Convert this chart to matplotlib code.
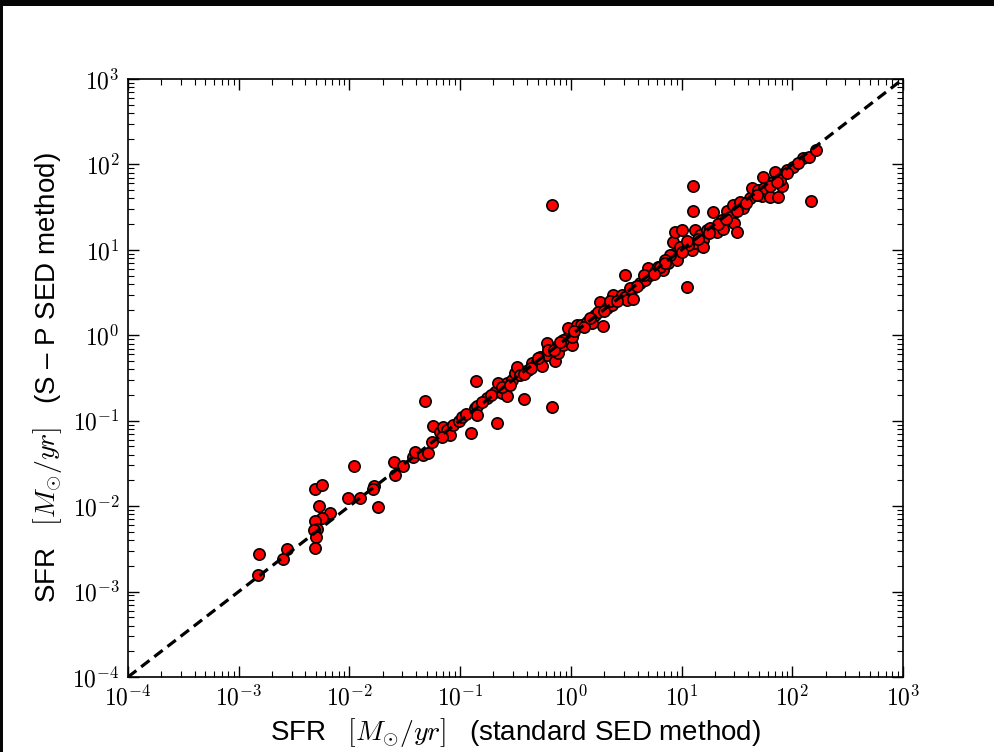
import numpy as np
import matplotlib
matplotlib.use('Agg')
import matplotlib.pyplot as plt
from matplotlib.patches import Rectangle
from matplotlib.ticker import FuncFormatter, LogLocator

# log10 SFR from the standard SED method (x) and the S-P SED method (y)
log_sfr_standard = [
    -2.814, -2.823, -2.566, -2.603, -2.311, -2.250, -2.275, -2.175, -2.250, -2.313,
    -2.295, -2.320, -2.302, -2.308, -1.956, -2.015, -1.904, -1.778, -1.790, -1.739,
    -1.597, -1.516, -1.588, -1.423, -1.407, -1.317, -0.856, -1.332, -1.287, -1.257,
    -1.242, -1.182, -1.152, -1.121, -1.091, -1.166, -1.061, -1.007, -0.986, -0.902,
    -0.865, -0.845, -0.850, -0.760, -0.669, -0.685, -0.655, -0.624, -0.579, -0.579,
    -0.534, -0.504, -0.489, -0.459, -0.423, -0.384, -0.353, -0.308, -0.278, -0.263,
    -0.218, -0.203, -0.173, -0.143, -0.113, -0.068, -0.037, 0.008, 0.023, -0.170,
    -0.212, -0.203, -0.068, 0.008, -0.023, 0.053, 0.089, 0.144, 0.189, 0.288,
    0.219, 0.264, 0.248, 0.324, 0.379, 0.369, 0.460, 0.490, 0.490, 0.510,
    0.559, 0.580, 0.625, 0.670, 0.715, 0.700, 0.761, 0.790, 0.836, 0.881,
    0.911, 0.957, 0.926, 1.047, 1.032, 1.092, 1.122, 1.101, 1.107, 0.941,
    1.002, 1.122, 1.167, 1.197, 1.192, 1.228, 1.257, 1.287, 1.318, 1.363,
    1.378, 1.408, 1.438, 1.474, 1.468, 1.499, 1.528, 1.558, 1.619, 1.634,
    1.694, 1.724, 1.745, 1.799, 1.874, 1.905, 1.829, 1.739, 1.845, 1.935,
    0.896, 0.851, 0.806, 0.986, 1.061, 1.824, 1.890, 1.950, 2.010, 2.095,
    2.154, 2.215, 2.167,
    -0.95, -0.80, -0.72, -0.62, -0.55, -0.42, -0.36, -0.30, -0.15, -0.10,
    0.03, 0.12, 0.17, 0.30, 0.35, 0.42, 0.53, 0.60, 0.66, 0.75,
    0.85, 1.00, 1.05, 1.15, 1.25, 1.33, 1.40, 1.50, 1.58, 1.68,
    1.80, 1.86, 1.95, 2.05,
]
log_sfr_sp = [
    -2.566, -2.804, -2.503, -2.624, -1.797, -1.751, -1.996, -2.085, -2.144, -2.172,
    -2.269, -2.281, -2.359, -2.495, -1.532, -1.910, -1.910, -1.766, -1.804, -2.012,
    -1.488, -1.532, -1.637, -1.423, -1.364, -0.770, -0.536, -1.403, -1.376, -1.247,
    -1.063, -1.130, -1.078, -1.110, -1.169, -1.189, -1.052, -1.001, -0.954, -1.149,
    -0.856, -0.829, -0.934, -0.739, -1.032, -0.662, -0.563, -0.680, -0.563, -0.712,
    -0.525, -0.446, -0.369, -0.466, -0.751, -0.407, -0.329, -0.310, -0.252, -0.361,
    -0.232, -0.126, -0.844, -0.299, -0.212, -0.115, -0.036, -0.115, 0.022, 1.525,
    -0.095, -0.173, -0.056, -0.018, 0.081, 0.119, 0.119, 0.158, 0.139, 0.108,
    0.237, 0.392, 0.275, 0.315, 0.471, 0.354, 0.471, 0.705, 0.451, 0.412,
    0.420, 0.568, 0.608, 0.646, 0.705, 0.783, 0.744, 0.802, 0.763, 0.842,
    0.939, 0.881, 1.095, 0.568, 1.036, 0.998, 1.076, 1.747, 1.458, 1.212,
    1.232, 1.232, 1.173, 1.115, 1.036, 1.232, 1.252, 1.446, 1.212, 1.349,
    1.240, 1.458, 1.388, 1.317, 1.525, 1.205, 1.563, 1.486, 1.603, 1.720,
    1.700, 1.630, 1.720, 1.622, 1.622, 1.747, 1.786, 1.856, 1.915, 1.896,
    0.939, 0.881, 0.802, 1.036, 1.056, 1.797, 1.817, 1.934, 1.973, 2.071,
    2.083, 2.169, 1.575,
    -0.92, -0.78, -0.70, -0.60, -0.58, -0.45, -0.38, -0.27, -0.17, -0.08,
    0.05, 0.10, 0.20, 0.28, 0.40, 0.40, 0.55, 0.58, 0.70, 0.72,
    0.85, 0.97, 1.10, 1.13, 1.20, 1.30, 1.36, 1.45, 1.55, 1.64,
    1.75, 1.80, 1.90, 2.02,
]

sfr_standard = 10.0 ** np.array(log_sfr_standard)
sfr_sp = 10.0 ** np.array(log_sfr_sp)

axis_limits = [1e-4, 1e3]
tick_exponents = [-4, -3, -2, -1, 0, 1, 2, 3]

x_label = r'SFR  $\;[M_{\odot}/yr]\;$  (standard SED method)'
y_label = r'SFR  $\;[M_{\odot}/yr]\;$  (S – P SED method)'

plt.rcParams['mathtext.fontset'] = 'cm'
plt.rcParams['font.family'] = ['Liberation Sans', 'DejaVu Sans']

fig = plt.figure(figsize=(9.95, 7.52), dpi=100)
fig.patch.set_facecolor('white')
# dark slide border (top strip and left edge)
fig.patches.append(Rectangle((0, 1 - 6 / 752), 1, 6 / 752, transform=fig.transFigure,
                             facecolor='#050505', edgecolor='none', zorder=-1))
fig.patches.append(Rectangle((0, 0), 3 / 995, 1, transform=fig.transFigure,
                             facecolor='#050505', edgecolor='none', zorder=-1))

ax = fig.add_axes([128 / 995, 1 - 677 / 752, (903 - 128) / 995, (677 - 79) / 752])
ax.scatter(sfr_standard, sfr_sp, s=66, c='red', edgecolors='black', linewidths=1.2, zorder=2)
ax.plot(axis_limits, axis_limits, color='black', linestyle='--', lw=2.3,
        dashes=(3.3, 1.9), zorder=3)

ax.set_xscale('log')
ax.set_yscale('log')
ax.set_xlim(axis_limits)
ax.set_ylim(axis_limits)

ticks = [10.0 ** e for e in tick_exponents]
ax.set_xticks(ticks)
ax.set_yticks(ticks)
fmt = FuncFormatter(lambda v, p: r'$10^{%d}$' % int(round(np.log10(v))))
ax.xaxis.set_major_formatter(fmt)
ax.yaxis.set_major_formatter(fmt)
ax.xaxis.set_minor_locator(LogLocator(base=10, subs=np.arange(2, 10), numticks=20))
ax.yaxis.set_minor_locator(LogLocator(base=10, subs=np.arange(2, 10), numticks=20))
ax.xaxis.set_minor_formatter(plt.NullFormatter())
ax.yaxis.set_minor_formatter(plt.NullFormatter())

ax.tick_params(which='both', direction='in', top=True, right=True, colors='black')
ax.tick_params(which='major', length=8, width=1.0, labelsize=17, pad=6)
ax.tick_params(which='minor', length=4, width=0.8)
for sp in ax.spines.values():
    sp.set_linewidth(1.2)

ax.set_xlabel(x_label, fontsize=20, labelpad=4)
ax.set_ylabel(y_label, fontsize=20, labelpad=6)

fig.savefig('out.png', dpi=100, facecolor=fig.get_facecolor())
